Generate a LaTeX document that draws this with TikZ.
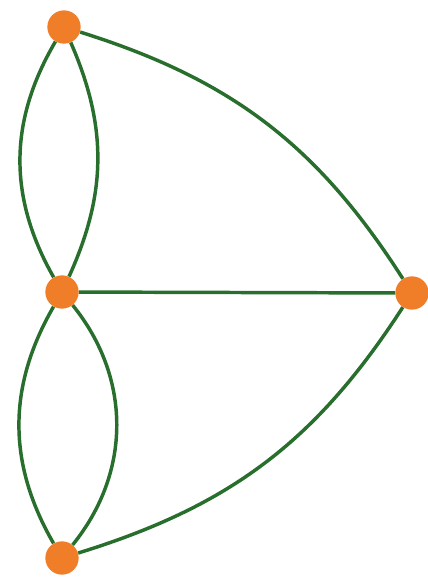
\documentclass[tikz,border=0pt]{standalone}
\usepackage{tikz}
\usetikzlibrary{positioning}

\definecolor{vertexorange}{RGB}{240,125,40}
\definecolor{edgegreen}{RGB}{40,110,45}

\begin{document}
\begin{tikzpicture}[
    x=0.75pt, y=-0.75pt,
    vertex/.style={
        circle,
        fill=vertexorange,
        minimum size=25pt,
        inner sep=0pt
    },
    edge/.style={
        draw=edgegreen,
        line width=2.6pt
    }
]
\useasboundingbox (0,0) rectangle (428,582);

% Vertices (the four land masses)
\node[vertex] (top)    at (64,27)  {};
\node[vertex] (middle) at (62,292) {};
\node[vertex] (bottom) at (62,558) {};
\node[vertex] (right)  at (412,293) {};

% Pairs of bridges on the left
\path[edge] (top) to[bend right=30] (middle);
\path[edge] (top) to[bend left=24] (middle);
\path[edge] (middle) to[bend right=30] (bottom);
\path[edge] (middle) to[bend left=39] (bottom);

% Single bridges to the right vertex
\path[edge] (top) to[bend left=20] (right);
\path[edge] (middle) -- (right);
\path[edge] (bottom) to[bend right=20] (right);

\end{tikzpicture}
\end{document}
